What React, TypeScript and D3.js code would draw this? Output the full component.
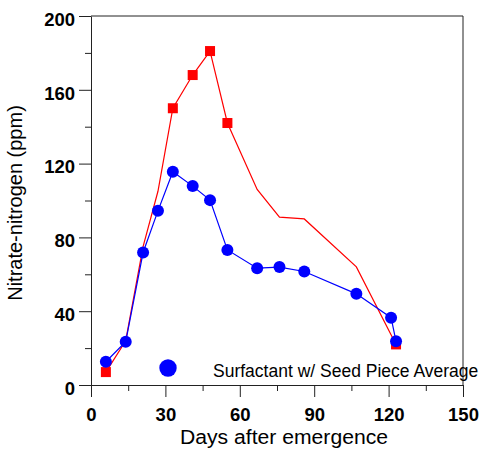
import { useEffect, useRef } from 'react'
import * as d3 from 'd3'

// red series (line vertices; markers only where flagged)
const redDays = [6, 14, 21, 27, 33, 41, 48, 55, 67, 76, 86, 107, 123]
const redValues = [7, 24, 75, 105, 150, 168, 181, 142, 106, 91, 90, 64, 22]
const redMarker = [true, false, false, false, true, true, true, true, false, false, false, false, true]

// blue series: Surfactant w/ Seed Piece Average
const blueDays = [6, 14, 21, 27, 33, 41, 48, 55, 67, 76, 86, 107, 121, 123]
const blueValues = [12.6, 23.5, 71.8, 94.4, 115.6, 107.8, 100.2, 73.2, 63.3, 63.9, 61.5, 49.4, 36.5, 23.7]

const xMajor = [0, 30, 60, 90, 120, 150]
const xMinor = [15, 45, 75, 105, 135]
const yMajor = [0, 40, 80, 120, 160, 200]
const yMinor = [20, 60, 100, 140, 180]

const legendLabel = 'Surfactant w/ Seed Piece Average'

export default function App() {
  const svgRef = useRef<SVGSVGElement>(null)

  useEffect(() => {
    const width = 480
    const height = 450
    const margin = { top: 16, right: 17, bottom: 65, left: 91 }
    const font = 'Arial, "Liberation Sans", sans-serif'

    const svg = d3.select(svgRef.current)
      .attr('width', width)
      .attr('height', height)
    svg.selectAll('*').remove()

    const x = d3.scaleLinear().domain([0, 150]).range([margin.left, width - margin.right])
    const y = d3.scaleLinear().domain([0, 200]).range([height - margin.bottom, margin.top])

    const g = svg.append('g')

    // frame (top and right)
    g.append('path')
      .attr('d', `M${x(0)},${y(200)}H${x(150)}V${y(0)}`)
      .attr('fill', 'none')
      .attr('stroke', '#222')

    const styleAxis = (sel: any) => {
      sel.selectAll('line').attr('stroke', '#222')
      sel.select('.domain').attr('stroke', '#222')
      sel.selectAll('text')
        .attr('fill', '#000')
        .attr('font-family', font)
        .attr('font-weight', 'bold')
        .attr('font-size', 18.5)
    }

    // X axis
    const xa = g.append('g')
      .attr('transform', `translate(0,${y(0)})`)
      .call(d3.axisBottom(x).tickValues(xMajor).tickSize(12).tickSizeOuter(0).tickPadding(11))
    styleAxis(xa)
    g.append('g')
      .attr('transform', `translate(0,${y(0)})`)
      .call(d3.axisBottom(x).tickValues(xMinor).tickSize(6).tickSizeOuter(0).tickFormat(() => ''))
      .call((s: any) => { s.select('.domain').remove(); s.selectAll('line').attr('stroke', '#222') })

    // Y axis
    const ya = g.append('g')
      .attr('transform', `translate(${x(0)},0)`)
      .call(d3.axisLeft(y).tickValues(yMajor).tickSize(12).tickSizeOuter(0).tickPadding(4))
    styleAxis(ya)
    ya.selectAll('text').attr('dy', '0.5em')
    g.append('g')
      .attr('transform', `translate(${x(0)},0)`)
      .call(d3.axisLeft(y).tickValues(yMinor).tickSize(6).tickSizeOuter(0).tickFormat(() => ''))
      .call((s: any) => { s.select('.domain').remove(); s.selectAll('line').attr('stroke', '#222') })

    // Red line
    const redData = redDays.map((d, i) => ({ d, v: redValues[i], m: redMarker[i] }))
    const line = d3.line<{ d: number, v: number }>().x(p => x(p.d)).y(p => y(p.v))
    g.append('path')
      .datum(redData)
      .attr('d', line)
      .attr('fill', 'none')
      .attr('stroke', '#ff0000')
      .attr('stroke-width', 1.2)

    // Blue line
    const blueData = blueDays.map((d, i) => ({ d, v: blueValues[i] }))
    g.append('path')
      .datum(blueData)
      .attr('d', line)
      .attr('fill', 'none')
      .attr('stroke', '#0000ff')
      .attr('stroke-width', 1.2)

    // Red squares
    g.selectAll('.sq')
      .data(redData.filter(p => p.m))
      .join('rect')
      .attr('class', 'sq')
      .attr('x', p => x(p.d) - 5)
      .attr('y', p => y(p.v) - 5)
      .attr('width', 10)
      .attr('height', 10)
      .attr('fill', '#ff0000')

    // Blue circles
    g.selectAll('.dot')
      .data(blueData)
      .join('circle')
      .attr('class', 'dot')
      .attr('cx', p => x(p.d))
      .attr('cy', p => y(p.v))
      .attr('r', 6)
      .attr('fill', '#0000ff')

    // Legend
    g.append('circle')
      .attr('cx', 168)
      .attr('cy', 368)
      .attr('r', 8.7)
      .attr('fill', '#0000ff')
    g.append('text')
      .attr('x', 213)
      .attr('y', 376.5)
      .attr('font-family', font)
      .attr('font-size', 17.5)
      .attr('fill', '#000')
      .text(legendLabel)

    // Axis titles
    g.append('text')
      .attr('x', 284)
      .attr('y', 444)
      .attr('text-anchor', 'middle')
      .attr('font-family', font)
      .attr('font-size', 20)
      .attr('textLength', 208)
      .attr('lengthAdjust', 'spacingAndGlyphs')
      .attr('fill', '#000')
      .text('Days after emergence')

    g.append('text')
      .attr('transform', `translate(22,203) rotate(-90)`)
      .attr('text-anchor', 'middle')
      .attr('font-family', font)
      .attr('font-size', 20)
      .attr('fill', '#000')
      .text('Nitrate-nitrogen (ppm)')
  }, [])

  return (
    <svg ref={svgRef} style={{ position: 'absolute', left: 0, top: 0 }}></svg>
  )
}
